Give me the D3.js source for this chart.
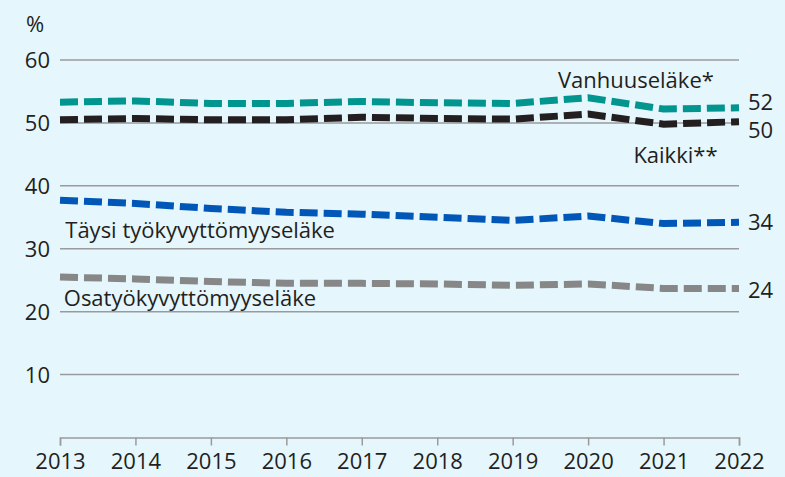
<!DOCTYPE html>
<html>
<head>
<meta charset="utf-8">
<script src="https://cdn.jsdelivr.net/npm/d3@7"></script>
<style>
  body { margin: 0; background: #e6f6fd; }
  svg { display: block; font-family: "Open Sans", sans-serif; }
</style>
</head>
<body>
<div id="chart"></div>
<script>
// data
const years = [2013, 2014, 2015, 2016, 2017, 2018, 2019, 2020, 2021, 2022];
const vanhuus = [53.3, 53.5, 53.1, 53.1, 53.4, 53.2, 53.1, 54.0, 52.2, 52.4];
const kaikki = [50.5, 50.7, 50.5, 50.5, 50.9, 50.7, 50.6, 51.4, 49.8, 50.2];
const taysi = [37.7, 37.2, 36.4, 35.8, 35.5, 35.0, 34.5, 35.2, 34.0, 34.2];
const osa = [25.5, 25.2, 24.8, 24.5, 24.5, 24.4, 24.2, 24.4, 23.7, 23.7];
const endLabels = ["24", "34", "50", "52"];
const yTicks = [10, 20, 30, 40, 50, 60];

const width = 785, height = 477;
const margin = { top: 60, right: 46, bottom: 40, left: 60 };

var x = d3.scaleLinear()
  .domain([2013, 2022])
  .range([margin.left, width - margin.right]);
var y = d3.scaleLinear()
  .domain([0, 60])
  .range([437.5, 60]);

var svg = d3.select("#chart")
  .append("svg")
  .attr("width", width)
  .attr("height", height);

svg.append("rect")
  .attr("width", width)
  .attr("height", height)
  .attr("fill", "#e6f6fd");

// gridlines
svg.append("g")
  .selectAll("line")
  .data(yTicks)
  .enter().append("line")
  .attr("x1", x(2013))
  .attr("x2", x(2022))
  .attr("y1", d => y(d))
  .attr("y2", d => y(d))
  .attr("stroke", "#9a9a9a")
  .attr("stroke-width", 1.5);

// y labels
svg.append("g")
  .selectAll("text")
  .data(yTicks)
  .enter().append("text")
  .attr("x", 50)
  .attr("y", d => y(d))
  .attr("dy", "0.36em")
  .attr("text-anchor", "end")
  .attr("font-size", 22)
  .attr("fill", "#231f20")
  .text(d => d);

svg.append("text")
  .attr("x", 26)
  .attr("y", 32)
  .attr("font-size", 22)
  .attr("fill", "#231f20")
  .text("%");

// x axis
var xAxis = d3.axisBottom(x)
  .tickValues(years)
  .tickFormat(d3.format("d"))
  .tickSize(8)
  .tickPadding(8);

var gx = svg.append("g")
  .attr("transform", `translate(0, ${y(0)})`)
  .call(xAxis);
gx.select(".domain").attr("stroke", "#9a9a9a").attr("stroke-width", 1.5);
gx.selectAll(".tick line").attr("stroke", "#9a9a9a").attr("stroke-width", 1.5);
gx.selectAll(".tick text")
  .attr("font-family", "Open Sans, sans-serif")
  .attr("font-size", 22)
  .attr("fill", "#231f20");

const series = [
  { name: "Osatyökyvyttömyyseläke", values: osa, color: "#878787" },
  { name: "Täysi työkyvyttömyyseläke", values: taysi, color: "#0057b7" },
  { name: "Kaikki**", values: kaikki, color: "#231f20" },
  { name: "Vanhuuseläke*", values: vanhuus, color: "#00968f" }
];

var line = d3.line()
  .x((d, i) => x(years[i]))
  .y(d => y(d));

svg.append("g")
  .selectAll("path")
  .data(series)
  .enter().append("path")
  .attr("d", d => line(d.values))
  .attr("fill", "none")
  .attr("stroke", d => d.color)
  .attr("stroke-width", 7)
  .attr("stroke-dasharray", "18 6");

// end values
svg.append("g")
  .selectAll("text")
  .data(series)
  .enter().append("text")
  .attr("x", x(2022) + 9)
  .attr("y", (d, i) => y(d.values[9]) + [2, 0, 8, -6][i])
  .attr("dy", "0.36em")
  .attr("font-size", 22)
  .attr("fill", "#231f20")
  .text((d, i) => endLabels[i]);

// series labels
const labelNames = ["Vanhuuseläke*", "Kaikki**", "Täysi työkyvyttömyyseläke", "Osatyökyvyttömyyseläke"];
const labelX = [2019.6, 2020.6, 2013.07, 2013.05];
const labelY = [55.5, 43.6, 31.7, 20.9];

svg.append("g")
  .selectAll("text")
  .data(labelNames)
  .enter().append("text")
  .attr("x", (d, i) => x(labelX[i]))
  .attr("y", (d, i) => y(labelY[i]))
  .attr("font-size", 22)
  .attr("fill", "#231f20")
  .text(d => d);
</script>
</body>
</html>
